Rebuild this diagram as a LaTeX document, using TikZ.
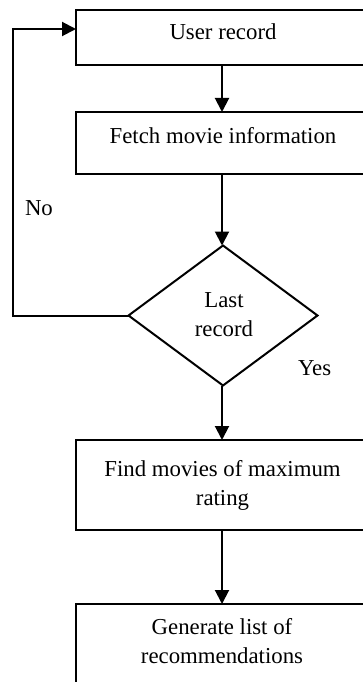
\documentclass[tikz,border=0pt]{standalone}
\usepackage{fontspec}
\setmainfont{Liberation Serif}
\usetikzlibrary{shapes.geometric,arrows.meta}

\begin{document}
\begin{tikzpicture}[x=1pt,y=1pt,
  every node/.style={inner sep=0pt,outer sep=0pt},
  stepbox/.style={draw,line width=2pt,rectangle,minimum width=292pt},
  decision/.style={draw,line width=2pt,diamond,minimum width=189pt,minimum height=140pt},
  txt/.style={font=\fontsize{22.8}{29}\selectfont,align=center,anchor=base},
  arr/.style={line width=2pt,-{Triangle[length=14pt,width=14pt]}}]
  \useasboundingbox (0,0) rectangle (363,-682);
  \clip (0,0) rectangle (363,-682);

  % process boxes (right edges run past the frame)
  \node[stepbox,minimum height=55pt] (b1) at (222,-37.5) {};
  \node[stepbox,minimum height=62pt] (b2) at (222,-143) {};
  \node[decision] (d) at (223,-315.5) {};
  \node[stepbox,minimum height=90pt] (b3) at (222,-485) {};
  \node[stepbox,minimum height=100pt] (b4) at (222,-654) {};

  % labels (base = baseline of the last line)
  \node[txt] (t1) at (223,-40) {User record};
  \node[txt] (t2) at (223,-143) {Fetch movie information};
  \node[txt] (t3) at (224,-336) {Last\\record};
  \node[txt] (t4) at (222.5,-505) {Find movies of maximum\\rating};
  \node[txt] (t5) at (222,-663) {Generate list of\\recommendations};
  \node[txt,anchor=base west] (no) at (25,-215) {No};
  \node[txt,anchor=base west] (yes) at (298,-375) {Yes};

  % flow
  \coordinate (loopx) at (13,0);
  \draw[arr] (b1.south) -- (b2.north);
  \draw[arr] (b2.south) -- (b2.south |- d.north);
  \draw[arr] (d.south -| b3.north) -- (b3.north);
  \draw[arr] (b3.south) -- (b4.north);
  \draw[arr] (d.west) -- (d.west -| loopx) |- ([yshift=8.5pt]b1.west);
\end{tikzpicture}
\end{document}
